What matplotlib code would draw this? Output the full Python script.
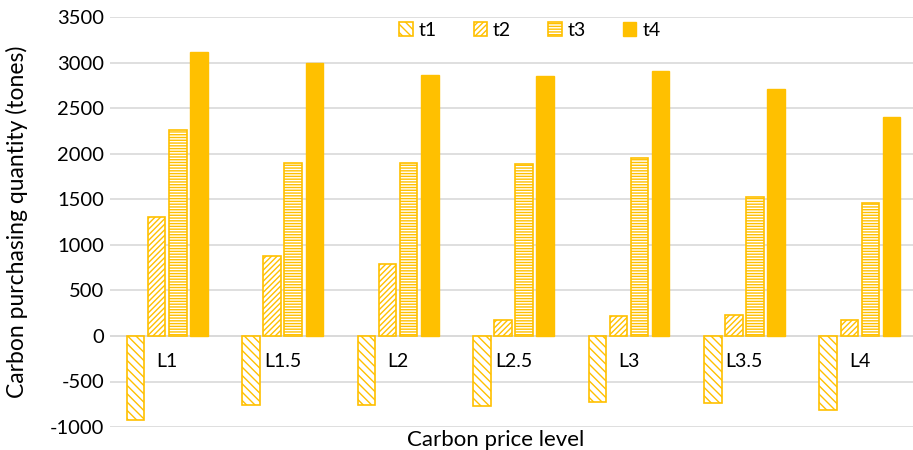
import matplotlib.pyplot as plt
import numpy as np

levels = ["L1", "L1.5", "L2", "L2.5", "L3", "L3.5", "L4"]
t1 = [-920, -760, -760, -770, -720, -740, -810]
t2 = [1310, 880, 790, 170, 220, 230, 170]
t3 = [2260, 1900, 1900, 1890, 1950, 1530, 1460]
t4 = [3120, 3000, 2860, 2850, 2910, 2710, 2400]

gold = "#FFC000"
plt.rcParams['font.family'] = ['Lato', 'DejaVu Sans']
plt.rcParams['axes.unicode_minus'] = False
plt.rcParams['hatch.linewidth'] = 1.0

fig = plt.figure(figsize=(9.13, 4.5), dpi=100)
ax = fig.add_axes([0.12, 0.051, 0.885, 0.911])

x = np.arange(len(levels))
w = 0.152
step = 0.183
series = [(t1, "t1", "\\\\\\\\"), (t2, "t2", "//////"), (t3, "t3", "------"), (t4, "t4", None)]
for i, (vals, name, hatch) in enumerate(series):
    pos = x + (i - 1.5) * step
    if hatch is None:
        ax.bar(pos, vals, width=w, color=gold, edgecolor=gold, label=name, zorder=3)
    else:
        ax.bar(pos, vals, width=w, facecolor="white", edgecolor=gold, hatch=hatch,
               linewidth=1.2, label=name, zorder=3)

ax.set_xlim(-0.5, len(levels) - 0.5)
ax.set_ylim(-1000, 3500)
ax.set_yticks(np.arange(-1000, 3501, 500))
ax.tick_params(axis="y", length=0, labelsize=14.5, pad=4)
ax.set_xticks([])
for xi, lab in zip(x, levels):
    ax.text(xi, -280, lab, ha="center", va="center", fontsize=14)

ax.grid(axis="y", color="#d9d9d9", linewidth=1.2, zorder=0)
ax.axhline(0, color="#d9d9d9", linewidth=1.2, zorder=1)
for s in ax.spines.values():
    s.set_visible(False)

ax.set_ylabel("Carbon purchasing quantity (tones)", fontsize=16.5)
ax.yaxis.set_label_coords(-0.101, 0.5)
ax.set_xlabel("Carbon price level", fontsize=16)
ax.xaxis.set_label_coords(0.478, -0.008)
ax.xaxis.label.set_va("top")

ax.legend(loc="upper center", bbox_to_anchor=(0.52, 1.012), ncol=4, frameon=False,
          fontsize=14, columnspacing=1.9, handlelength=0.7, handleheight=0.7,
          handletextpad=0.3, borderaxespad=0.1)

fig.savefig("out.png", dpi=100)
